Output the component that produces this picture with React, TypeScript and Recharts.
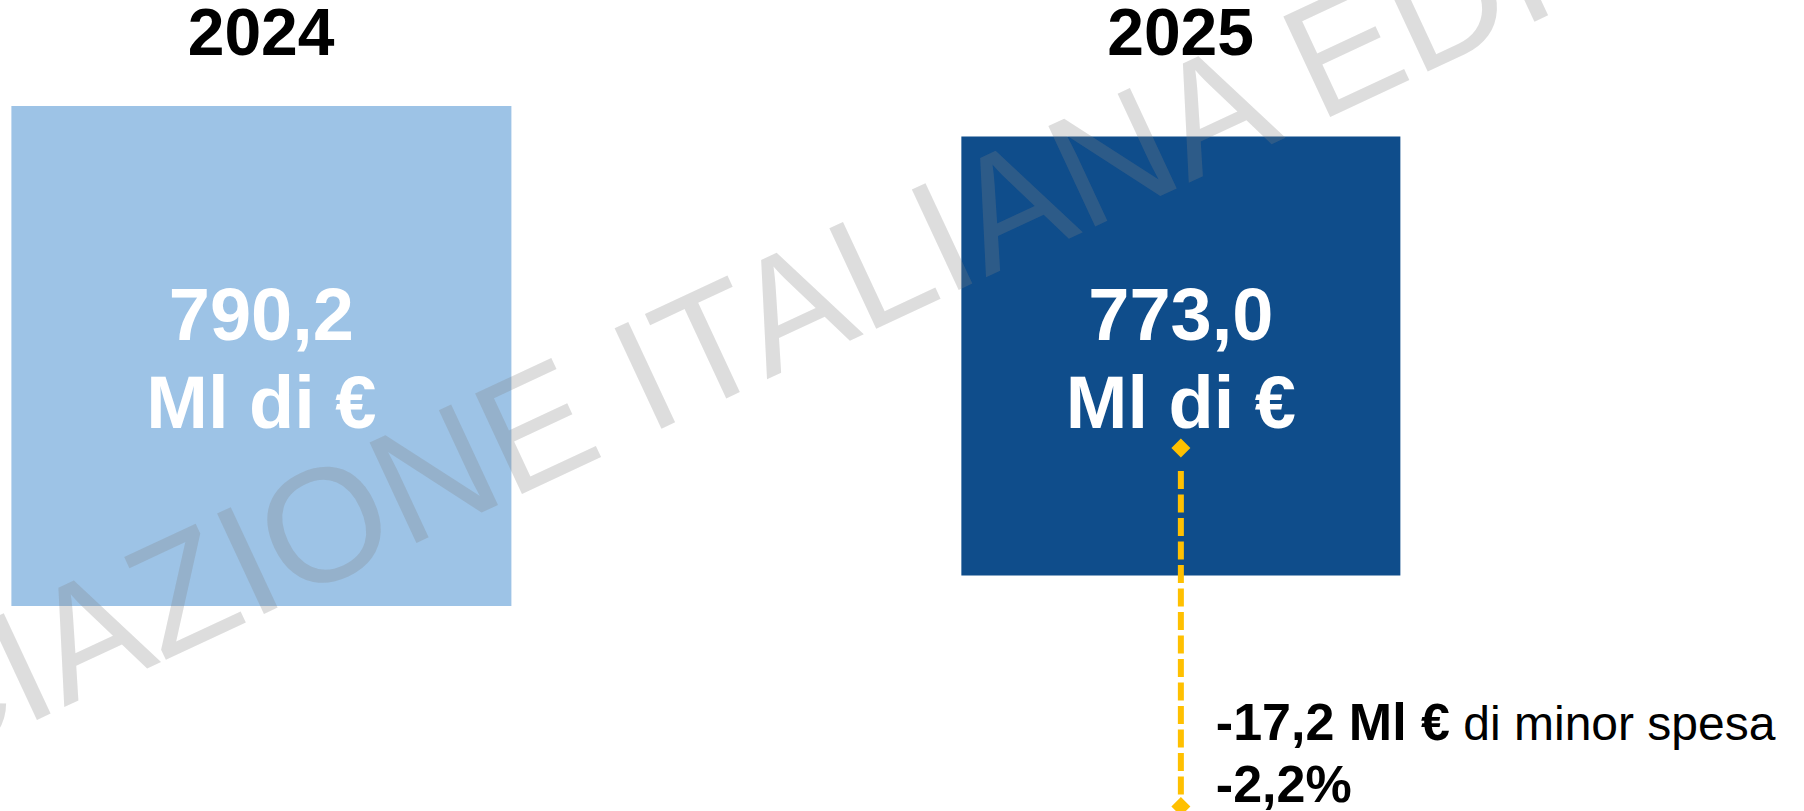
import React from "react";
import { BarChart, Bar, XAxis, YAxis, LabelList } from "recharts";

// spending per year, billions of euro
const years = [2024, 2025];
const values = [790.2, 773.0];
const unitLabel = "Ml di €";
const deltaUnit = "Ml €";
const deltaNote = " di minor spesa";
const watermarkLead = "ASSOCIAZIONE";
const watermarkTail = "ITALIANA EDITORI";

const COLORS = [
  "#9DC3E6", // light blue
  "#0F4D8B", // dark blue
];
const ARROW = "#FFC000";
const FONT = '"Liberation Sans", Arial, Helvetica, sans-serif';

const W = 1804;
const H = 811;
const PLOT_TOP = 106;
const PLOT_BOTTOM = 606;
const PLOT_H = PLOT_BOTTOM - PLOT_TOP;
const Y_FLOOR = 649.2; // square sides grow from this floor
const X_DOMAIN: [number, number] = [2023.716, 2025.678];

const data = years.map((year, i) => ({ year, value: values[i] }));

const fmt = (v: number, digits = 1) => v.toFixed(digits).replace(".", ",");

function YearTick({ x, payload }: any) {
  return (
    <text
      x={x}
      y={PLOT_TOP - 51}
      textAnchor="middle"
      fontFamily={FONT}
      fontWeight="bold"
      fontSize={66}
      fill="#000"
    >
      {payload.value}
    </text>
  );
}

function Diamond({ cx, cy, r }: { cx: number; cy: number; r: number }) {
  return (
    <polygon
      points={`${cx},${cy - r} ${cx + r},${cy} ${cx},${cy + r} ${cx - r},${cy}`}
      fill={ARROW}
    />
  );
}

function Square(props: any) {
  const { x, y, width, height, index, payload } = props;
  const cx = x + width / 2;
  // bars share the plot bottom, squares are centred on the plot middle
  const cy = y + height - PLOT_H / 2;
  const side = height;

  return (
    <g>
      <rect
        x={cx - side / 2}
        y={cy - side / 2}
        width={side}
        height={side}
        fill={COLORS[index % COLORS.length]}
      />
      <text
        x={cx}
        y={cy - 16}
        textAnchor="middle"
        fontFamily={FONT}
        fontWeight="bold"
        fontSize={74}
        fill="#fff"
      >
        {fmt(payload.value)}
      </text>
      <text
        x={cx}
        y={cy + 72}
        textAnchor="middle"
        fontFamily={FONT}
        fontWeight="bold"
        fontSize={74}
        fill="#fff"
      >
        {unitLabel}
      </text>
    </g>
  );
}

// Delta arrow + note under the last square (labels are not clipped)
function DeltaNote(props: any) {
  const vb = props.viewBox ?? props;
  const { x, y, width, height } = vb;
  const idx = props.index ?? values.indexOf(Number(props.value));
  if (idx !== values.length - 1) return null;

  const cx = x + width / 2;
  const bottom = y + height;
  const cy = bottom - PLOT_H / 2;
  const delta = values[values.length - 1] - values[0];
  const pct = (delta / values[0]) * 100;

  return (
    <g>
      <line
        x1={cx}
        x2={cx}
        y1={cy + 115}
        y2={bottom + 190}
        stroke={ARROW}
        strokeWidth={6}
        strokeDasharray="18 5.5"
      />
      <Diamond cx={cx} cy={cy + 92} r={9.5} />
      <Diamond cx={cx} cy={bottom + 200.5} r={9.5} />
      <text x={cx + 35} y={bottom + 134} fontFamily={FONT} fill="#000">
        <tspan fontWeight="bold" fontSize={52}>
          {`${fmt(delta)} ${deltaUnit}`}
        </tspan>
        <tspan fontSize={48}>{deltaNote}</tspan>
      </text>
      <text
        x={cx + 35}
        y={bottom + 196}
        fontFamily={FONT}
        fontWeight="bold"
        fontSize={52}
        fill="#000"
      >
        {`${fmt(pct)}%`}
      </text>
    </g>
  );
}

function Watermark() {
  return (
    <svg
      width={W}
      height={H}
      style={{ position: "absolute", left: 0, top: 0, pointerEvents: "none" }}
    >
      <g
        transform="translate(648,435) rotate(-25)"
        fontFamily={FONT}
        fontSize={161}
        fill="rgb(128,128,128)"
        fillOpacity={0.27}
      >
        <text x={-45} y={0} textAnchor="end">
          {watermarkLead}
        </text>
        <text x={0} y={0}>
          {watermarkTail}
        </text>
      </g>
    </svg>
  );
}

export default function App() {
  return (
    <div style={{ position: "relative", width: W, height: H, background: "#fff" }}>
      <style>{"body{margin:0}"}</style>
      <BarChart
        width={W}
        height={H}
        data={data}
        margin={{ top: 0, right: 0, bottom: H - PLOT_BOTTOM, left: 0 }}
      >
        <XAxis
          dataKey="year"
          type="number"
          orientation="top"
          domain={X_DOMAIN}
          allowDataOverflow
          ticks={years}
          interval={0}
          height={PLOT_TOP}
          axisLine={false}
          tickLine={false}
          tick={YearTick}
        />
        <YAxis
          hide
          type="number"
          domain={[Y_FLOOR, Math.max(...values)]}
          allowDataOverflow
        />
        <Bar
          dataKey="value"
          barSize={40}
          isAnimationActive={false}
          shape={Square}
        >
          <LabelList dataKey="value" content={DeltaNote} />
        </Bar>
      </BarChart>
      <Watermark />
    </div>
  );
}
